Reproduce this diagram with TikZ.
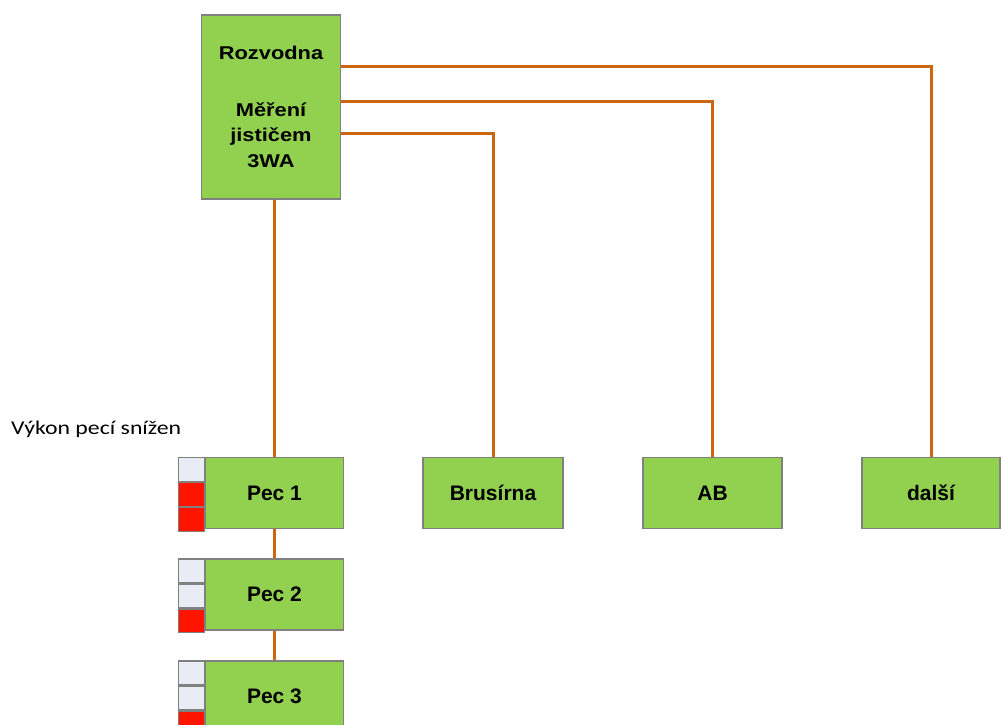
\documentclass[tikz,border=0pt]{standalone}
\usepackage{fontspec}
\setmainfont{Liberation Sans}
\newfontfamily\widesans[FakeStretch=1.18]{Liberation Sans}
\newfontfamily\carlito[FakeStretch=1.22]{Carlito}
\definecolor{boxgreen}{RGB}{146,208,80}
\definecolor{boxedge}{RGB}{128,128,128}
\definecolor{wirecol}{RGB}{204,102,17}
\definecolor{cellgrey}{RGB}{233,235,245}
\definecolor{cellred}{RGB}{255,20,0}
\tikzset{
  box/.style={draw=boxedge, fill=boxgreen, line width=1.3pt, inner sep=0pt, align=center, minimum height=71pt, font=\fontsize{21}{25}\selectfont\bfseries},
  cell/.style={draw=boxedge, line width=1.3pt, inner sep=0pt, minimum width=25.7pt, minimum height=23.7pt},
  wire/.style={draw=wirecol, line width=3pt},
}
\begin{document}
\begin{tikzpicture}[x=1pt,y=-1pt]
\useasboundingbox (0,0) rectangle (1001,725);
\clip (0,0) rectangle (1001,725);
\node[box, minimum width=139pt, minimum height=184pt, font=\widesans\fontsize{18.5}{25.5}\selectfont\bfseries] (rozv) at (271,107) {Rozvodna\\[31pt]Měření\\jističem\\3WA};
\node[box, minimum width=138pt] (pec1) at (274.5,493) {Pec 1};
\node[box, minimum width=138pt] (pec2) at (274.5,594.5) {Pec 2};
\node[box, minimum width=138pt] (pec3) at (274.5,696.5) {Pec 3};
\node[box, minimum width=140pt] (brus) at (493,493) {Brusírna};
\node[box, minimum width=139pt] (ab) at (712.5,493) {AB};
\node[box, minimum width=138pt] (dalsi) at (931,493) {další};
% cells
\node[cell, fill=cellgrey, anchor=north east] (c11) at (pec1.north west) {};
\node[cell, fill=cellred, anchor=north] (c12) at (c11.south) {};
\node[cell, fill=cellred, anchor=north] (c13) at (c12.south) {};
\node[cell, fill=cellgrey, anchor=north east] (c21) at (pec2.north west) {};
\node[cell, fill=cellgrey, anchor=north] (c22) at (c21.south) {};
\node[cell, fill=cellred, anchor=north] (c23) at (c22.south) {};
\node[cell, fill=cellgrey, anchor=north east] (c31) at (pec3.north west) {};
\node[cell, fill=cellgrey, anchor=north] (c32) at (c31.south) {};
\node[cell, fill=cellred, anchor=north] (c33) at (c32.south) {};
% wires
\draw[wire] ([yshift=40pt]rozv.east) -| (dalsi.north);
\draw[wire] ([yshift=6pt]rozv.east) -| (ab.north);
\draw[wire] ([yshift=-26pt]rozv.east) -| (brus.north);
\draw[wire] (pec1.north |- rozv.south) -- (pec1.north);
\draw[wire] (pec1.south) -- (pec2.north);
\draw[wire] (pec2.south) -- (pec3.north);
\node[anchor=base west, inner sep=0pt, font=\carlito\fontsize{19.5}{22}\selectfont] (lbl) at (11,434.5) {Výkon pecí snížen};
\end{tikzpicture}
\end{document}
